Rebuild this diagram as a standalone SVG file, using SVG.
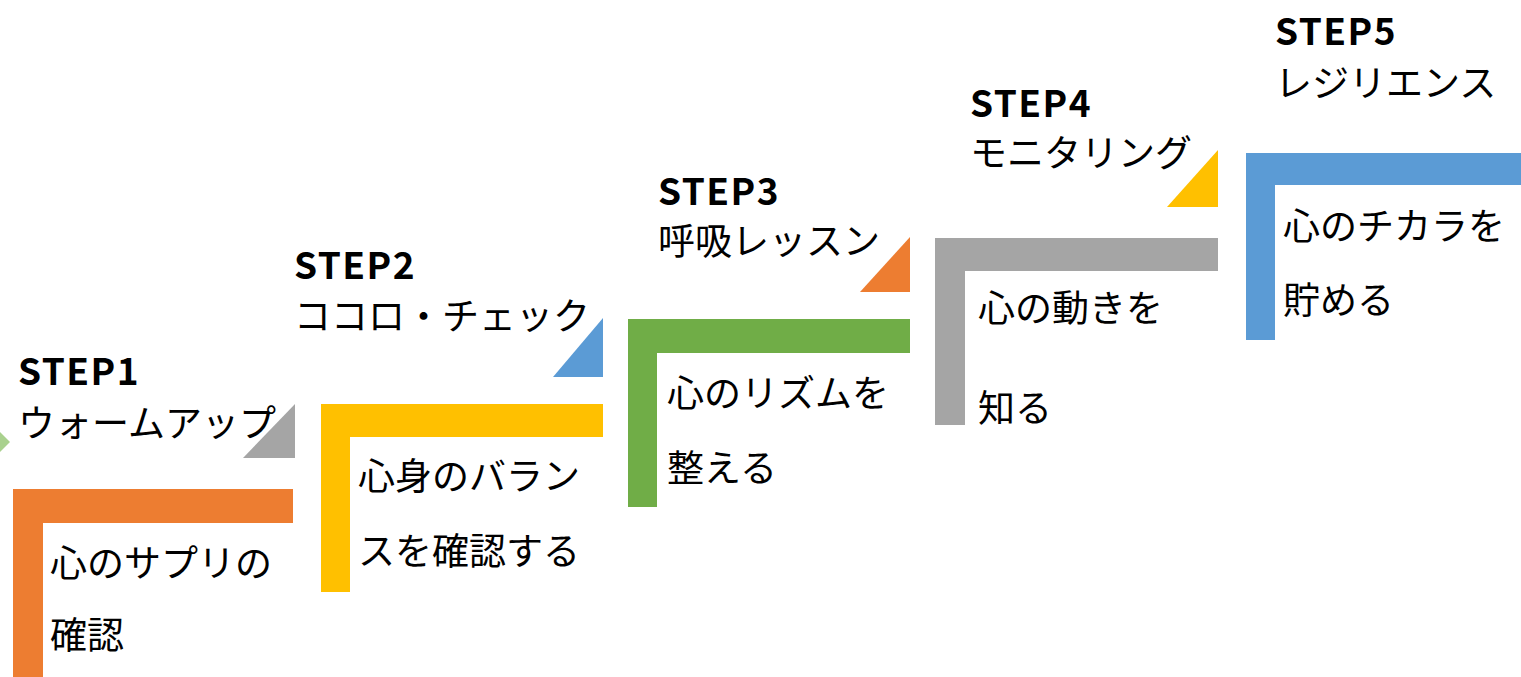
<svg xmlns="http://www.w3.org/2000/svg" width="1521" height="677" viewBox="0 0 1521 677">
<style>
.t{font-family:"Noto Sans CJK JP","Noto Sans",sans-serif;font-size:37px;fill:#000}
.s{font-weight:bold;letter-spacing:1.5px}
</style>
<rect width="1521" height="677" fill="#fff"/>
<g id="connectors">
<polygon points="0,432 10,442 0,452" fill="#A9D18E"/>
</g>
<g id="step1">
<path d="M13,489 H293 V523 H43 V677 H13 Z" fill="#ED7D31"/>
<polygon points="295,404 295,458 243,458" fill="#A5A5A5"/>
<text class="t s" x="18" y="385">STEP1</text>
<text class="t" x="18" y="437">ウォームアップ</text>
<text class="t" x="50" y="577">心のサプリの</text>
<text class="t" x="50" y="649">確認</text>
</g>
<g id="step2">
<path d="M321,404 H603 V437 H350 V592 H321 Z" fill="#FFC000"/>
<polygon points="603,318 603,377 553,377" fill="#5B9BD5"/>
<text class="t s" x="294" y="279">STEP2</text>
<text class="t" x="294" y="330">ココロ・チェック</text>
<text class="t" x="358" y="490">心身のバラン</text>
<text class="t" x="358" y="565">スを確認する</text>
</g>
<g id="step3">
<path d="M628,319 H910 V353 H657 V507 H628 Z" fill="#70AD47"/>
<polygon points="910,237 910,292 860,292" fill="#ED7D31"/>
<text class="t s" x="658" y="205">STEP3</text>
<text class="t" x="658" y="255">呼吸レッスン</text>
<text class="t" x="667" y="407">心のリズムを</text>
<text class="t" x="667" y="482">整える</text>
</g>
<g id="step4">
<path d="M935,238 H1218 V271 H965 V425 H935 Z" fill="#A5A5A5"/>
<polygon points="1218,150 1218,207 1167,207" fill="#FFC000"/>
<text class="t s" x="970" y="117">STEP4</text>
<text class="t" x="970" y="167">モニタリング</text>
<text class="t" x="978" y="322">心の動きを</text>
<text class="t" x="978" y="422">知る</text>
</g>
<g id="step5">
<path d="M1246,153 H1521 V185 H1275 V340 H1246 Z" fill="#5B9BD5"/>
<text class="t s" x="1275" y="45">STEP5</text>
<text class="t" x="1275" y="97">レジリエンス</text>
<text class="t" x="1283" y="240">心のチカラを</text>
<text class="t" x="1283" y="314">貯める</text>
</g>
</svg>
